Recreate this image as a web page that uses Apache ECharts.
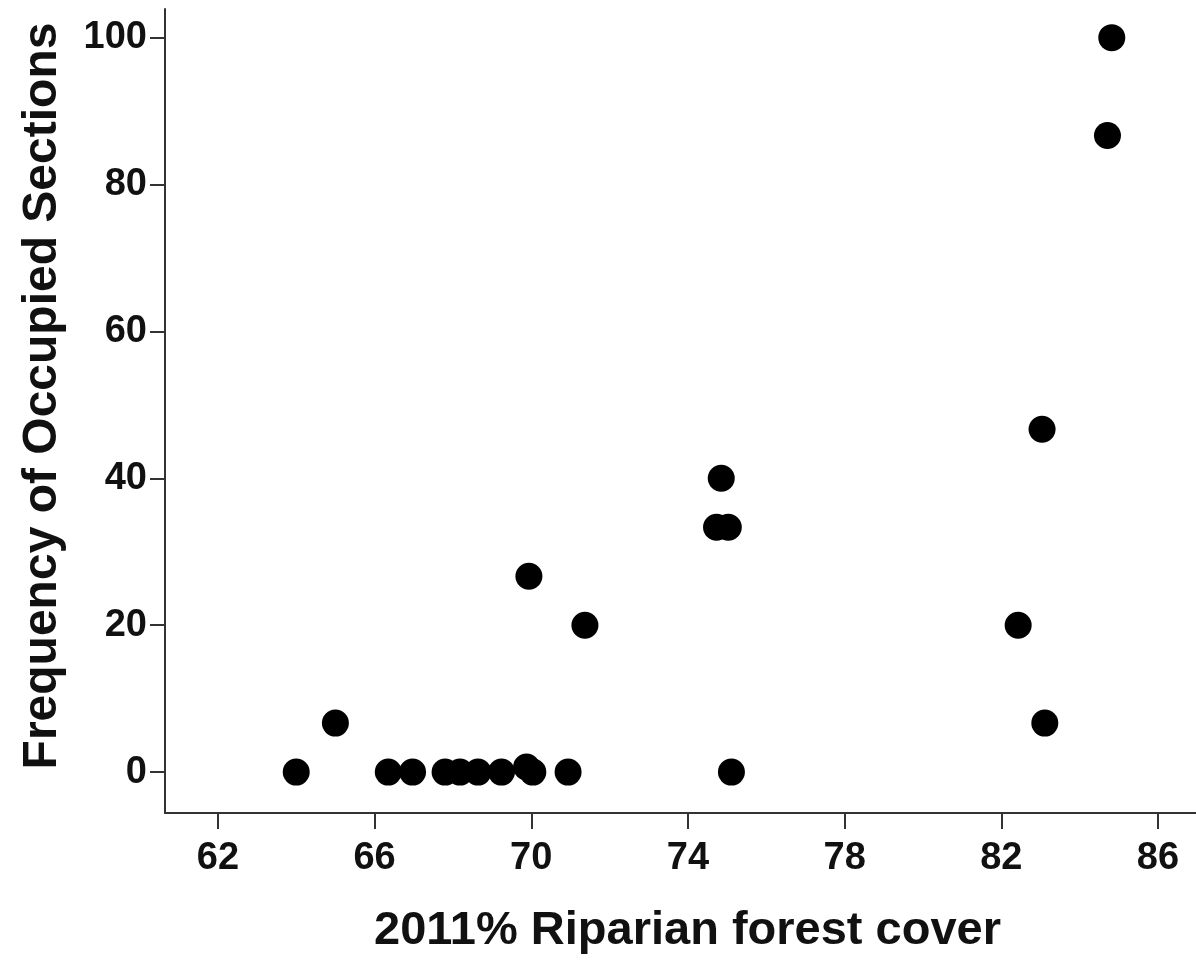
<!DOCTYPE html>
<html>
<head>
<meta charset="utf-8">
<script src="https://cdn.jsdelivr.net/npm/echarts@6/dist/echarts.min.js"></script>
<style>html,body{margin:0;padding:0;background:#fff}#c{width:1196px;height:960px}</style>
</head>
<body>
<div id="c"></div>
<script>
const forestCover = [64.0, 65.0, 66.35, 66.97, 67.8, 68.18, 68.64, 69.24, 69.88, 70.04, 70.94, 69.94, 71.37, 74.85, 74.73, 75.03, 75.11, 84.82, 84.71, 83.04, 82.43, 83.11];
const occupiedFreq = [0, 6.67, 0, 0, 0, 0, 0, 0, 0.7, 0, 0, 26.67, 20, 40, 33.33, 33.33, 0, 100, 86.67, 46.67, 20, 6.67];
const xTicks = [62, 66, 70, 74, 78, 82, 86];
const yTicks = [0, 20, 40, 60, 80, 100];
const xTitle = '2011% Riparian forest cover';
const yTitle = 'Frequency of Occupied Sections';

const points = forestCover.map((x, i) => [x, occupiedFreq[i]]);
const font = 'Liberation Sans, Arial, sans-serif';
const axisCol = '#333';

const chart = echarts.init(document.getElementById('c'));
chart.setOption({
  animation: false,
  backgroundColor: '#fff',
  grid: { left: 165, right: 0, top: 9, bottom: 145, containLabel: false },
  xAxis: {
    type: 'value', min: 60.65, max: 86.97,
    name: xTitle, nameLocation: 'middle', nameGap: 95,
    nameTextStyle: { fontFamily: font, fontWeight: 'bold', fontSize: 47, color: '#111', padding: [0, 0, 0, 14] },
    axisLine: { show: true, onZero: false, lineStyle: { color: axisCol, width: 2 } },
    axisTick: { show: true, length: 16, customValues: xTicks, lineStyle: { color: axisCol, width: 2 } },
    axisLabel: { customValues: xTicks, fontFamily: font, fontWeight: 'bold', fontSize: 38, color: '#111', margin: 27 },
    splitLine: { show: false }
  },
  yAxis: {
    type: 'value', min: -5.57, max: 103.9,
    name: yTitle, nameLocation: 'middle', nameGap: 98, nameRotate: 90,
    nameTextStyle: { fontFamily: font, fontWeight: 'bold', fontSize: 48, color: '#111', padding: [0, 0, 0, 30] },
    axisLine: { show: true, onZero: false, lineStyle: { color: axisCol, width: 2 } },
    axisTick: { show: true, length: 15, customValues: yTicks, lineStyle: { color: axisCol, width: 2 } },
    axisLabel: { customValues: yTicks, fontFamily: font, fontWeight: 'bold', fontSize: 38, color: '#111', margin: 18 },
    splitLine: { show: false }
  },
  series: [{
    type: 'scatter',
    data: points,
    symbol: 'circle',
    symbolSize: 27,
    itemStyle: { color: '#000', opacity: 1 }
  }]
});
</script>
</body>
</html>
